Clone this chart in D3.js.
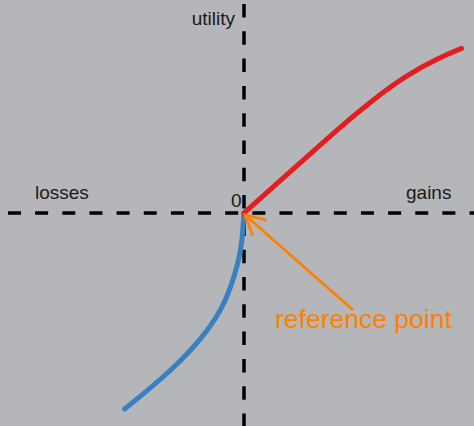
<!DOCTYPE html>
<html>
<head>
<meta charset="utf-8">
<script src="https://cdn.jsdelivr.net/npm/d3@7"></script>
<style>
  html, body { margin: 0; padding: 0; background: #b5b6ba; }
  svg { display: block; }
  text { font-family: "Liberation Sans", Arial, Helvetica, sans-serif; }
</style>
</head>
<body>
<svg id="chart"></svg>
<script>
// Value function: utility of gains (concave) and losses (steeper, convex)
const gainsX = [0, 1.47, 3.13, 4.8, 6.47, 8.13, 9.8, 10.88];
const gainsU = [0, 1.32, 2.79, 4.29, 5.68, 6.9, 7.79, 8.23];
const lossesX = [0, -0.1, -0.3, -0.64, -1.14, -1.8, -2.64, -3.64, -4.8, -5.97];
const lossesU = [0, -1.52, -2.52, -3.68, -4.85, -5.85, -6.85, -7.85, -8.85, -9.8];

// Axis labels
const axisLabels = ["utility", "losses", "gains", "0"];

// Annotation: arrow from label to the reference point
const annotationText = "reference point";
const arrowTail = [5.45, -4.85];
const arrowTip = [0.05, -0.1];

const W = 474, H = 426;
const x = d3.scaleLinear().domain([-12.2, 11.5]).range([0, W]);
const y = d3.scaleLinear().domain([10.65, -10.65]).range([0, H]);

const svg = d3.select("#chart").attr("width", W).attr("height", H);
svg.append("rect").attr("width", W).attr("height", H).attr("fill", "#b5b6ba");

// Dashed axes through the origin
svg.append("line")
  .attr("x1", 0).attr("x2", W)
  .attr("y1", y(0)).attr("y2", y(0))
  .attr("stroke", "#000").attr("stroke-width", 3.5)
  .attr("stroke-dasharray", "13,14.15").attr("stroke-dashoffset", 19.15);
svg.append("line")
  .attr("x1", x(0)).attr("x2", x(0))
  .attr("y1", 0).attr("y2", H)
  .attr("stroke", "#000").attr("stroke-width", 3.5)
  .attr("stroke-dasharray", "13.5,13.8").attr("stroke-dashoffset", 23.3);

// Labels
const lbl = svg.append("g").attr("font-size", 19).attr("fill", "#1a1a1a");
lbl.append("text").attr("x", x(0) - 9).attr("y", 25).attr("text-anchor", "end").text(axisLabels[0]);
lbl.append("text").attr("x", 35).attr("y", y(0) - 14).text(axisLabels[1]);
lbl.append("text").attr("x", 406).attr("y", y(0) - 14).text(axisLabels[2]);
lbl.append("text").attr("x", x(0) - 2.5).attr("y", y(0) - 6).attr("text-anchor", "end").text(axisLabels[3]);

// Curves (smoothed B-spline through the sampled values)
const line = d3.line().x(d => x(d[0])).y(d => y(d[1])).curve(d3.curveBasis);
const gains = gainsX.map((v, i) => [v, gainsU[i]]);
const losses = lossesX.map((v, i) => [v, lossesU[i]]);

svg.append("path").datum(losses).attr("d", line)
  .attr("fill", "none").attr("stroke", "#3a80c0").attr("stroke-width", 5)
  .attr("stroke-linecap", "round").attr("stroke-linejoin", "round");
svg.append("path").datum(gains).attr("d", line)
  .attr("fill", "none").attr("stroke", "#e41e20").attr("stroke-width", 5)
  .attr("stroke-linecap", "round").attr("stroke-linejoin", "round");

// Annotation arrow (open head)
const orange = "#ff8000";
const tx = x(arrowTip[0]), ty = y(arrowTip[1]);
const sx = x(arrowTail[0]), sy = y(arrowTail[1]);
const ang = Math.atan2(sy - ty, sx - tx);
const headLen = 22, spread = 28 * Math.PI / 180;
const ann = svg.append("g").attr("stroke", orange).attr("stroke-width", 2.8)
  .attr("fill", "none").attr("stroke-linecap", "butt");
ann.append("line").attr("x1", sx).attr("y1", sy).attr("x2", tx).attr("y2", ty);
ann.append("path").attr("d",
  `M${tx + headLen * Math.cos(ang - spread)},${ty + headLen * Math.sin(ang - spread)}` +
  `L${tx},${ty}` +
  `L${tx + headLen * Math.cos(ang + spread)},${ty + headLen * Math.sin(ang + spread)}`)
  .attr("stroke-linejoin", "miter");

svg.append("text").attr("x", 275).attr("y", 328)
  .attr("font-size", 26.5).attr("fill", orange).text(annotationText);
</script>
</body>
</html>
